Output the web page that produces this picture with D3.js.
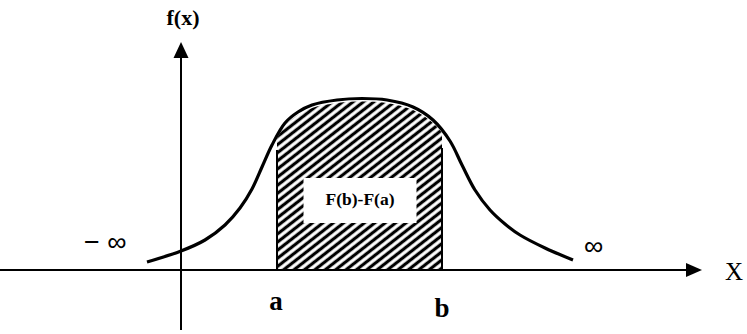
<!DOCTYPE html>
<html>
<head>
<meta charset="utf-8">
<script src="https://cdn.jsdelivr.net/npm/d3@7"></script>
<style>
  html, body { margin: 0; padding: 0; background: #fff; }
  svg { display: block; }
</style>
</head>
<body>
<svg id="chart" width="747" height="334"></svg>
<script>
// density curve (x in axis units, y in density units)
const curveX = [-0.68, 0, 0.48, 0.88, 1.18, 1.42, 1.62, 1.82, 2.08, 2.34, 2.62, 3.12, 3.62,
  4.12, 4.64, 5.04, 5.38, 5.62, 5.88, 6.18, 6.48, 6.78, 7.28, 7.84];
const curveY = [0.16, 0.38, 0.60, 0.90, 1.24, 1.62, 2.06, 2.50, 2.94, 3.16, 3.30, 3.40, 3.43,
  3.40, 3.26, 3.00, 2.58, 2.10, 1.60, 1.20, 0.92, 0.70, 0.44, 0.20];

const boundA = 1.92;
const boundB = 5.22;
const xAxisExtent = [-3.62, 10.42];
const yAxisExtent = [-1.2, 4.56];

const labelYAxis = 'f(x)';
const labelXAxis = 'X';
const labelArea = 'F(b)-F(a)';
const labelA = 'a';
const labelB = 'b';
const labelNegInf = '\u2212 \u221e';
const labelPosInf = '\u221e';

const svg = d3.select('#chart');

const x = d3.scaleLinear().domain([0, 10]).range([181, 681]);
const y = d3.scaleLinear().domain([0, 5]).range([270, 20]);

const pts = curveX.map((v, i) => [v, curveY[i]]);
const serif = "'Liberation Serif', 'Times New Roman', serif";
const sans = "'Liberation Sans', Arial, sans-serif";

// hatch pattern, "/" stripes a bit flatter than 45deg
const defs = svg.append('defs');
const hw = 6.4;
const pat = defs.append('pattern')
  .attr('id', 'hatch')
  .attr('patternUnits', 'userSpaceOnUse')
  .attr('width', hw)
  .attr('height', hw)
  .attr('patternTransform', 'rotate(52)');
pat.append('rect').attr('width', hw).attr('height', hw).attr('fill', '#fff');
pat.append('line')
  .attr('x1', hw / 2).attr('y1', 0).attr('x2', hw / 2).attr('y2', hw)
  .attr('stroke', '#000').attr('stroke-width', 3.2);

defs.append('clipPath').attr('id', 'ab-clip')
  .append('rect')
  .attr('x', x(boundA))
  .attr('y', 0)
  .attr('width', x(boundB) - x(boundA))
  .attr('height', y(0));

const smooth = d3.curveCatmullRom.alpha(0.5);

const area = d3.area()
  .x(d => x(d[0]))
  .y0(y(0))
  .y1(d => y(d[1]) + 3)
  .curve(smooth);

svg.append('path')
  .datum(pts)
  .attr('clip-path', 'url(#ab-clip)')
  .attr('fill', 'url(#hatch)')
  .attr('d', area);

// white box behind label
const mid = (boundA + boundB) / 2;
svg.append('rect')
  .attr('x', x(mid) - 56)
  .attr('y', y(1.84))
  .attr('width', 113)
  .attr('height', 45)
  .attr('fill', '#fff');

svg.append('text')
  .attr('x', x(mid) + 0.5)
  .attr('y', y(1.84) + 27)
  .attr('text-anchor', 'middle')
  .attr('font-family', serif)
  .attr('font-weight', 'bold')
  .attr('font-size', 17.5)
  .text(labelArea);

// verticals at a and b
[[boundA, 2.4], [boundB, 2.44]].forEach(([bx, top]) => {
  svg.append('line')
    .attr('x1', x(bx)).attr('x2', x(bx))
    .attr('y1', y(top)).attr('y2', y(0))
    .attr('stroke', '#000').attr('stroke-width', 2);
});

// axes
svg.append('line')
  .attr('x1', x(xAxisExtent[0])).attr('x2', x(xAxisExtent[1]) - 10)
  .attr('y1', y(0)).attr('y2', y(0))
  .attr('stroke', '#000').attr('stroke-width', 2);
const xt = x(xAxisExtent[1]), y0 = y(0);
svg.append('path')
  .attr('d', `M${xt},${y0} L${xt - 16},${y0 - 7} L${xt - 16},${y0 + 7} Z`)
  .attr('fill', '#000');

svg.append('line')
  .attr('x1', x(0)).attr('x2', x(0))
  .attr('y1', y(yAxisExtent[0])).attr('y2', y(yAxisExtent[1]) + 10)
  .attr('stroke', '#000').attr('stroke-width', 2);
const yt = y(yAxisExtent[1]), x0 = x(0);
svg.append('path')
  .attr('d', `M${x0},${yt} L${x0 - 7.5},${yt + 16} L${x0 + 7.5},${yt + 16} Z`)
  .attr('fill', '#000');

// curve
const line = d3.line()
  .x(d => x(d[0]))
  .y(d => y(d[1]))
  .curve(smooth);

svg.append('path')
  .datum(pts)
  .attr('fill', 'none')
  .attr('stroke', '#000')
  .attr('stroke-width', 3.2)
  .attr('d', line);

// labels
svg.append('text')
  .attr('x', x0 + 2).attr('y', 25)
  .attr('text-anchor', 'middle')
  .attr('font-family', serif).attr('font-weight', 'bold').attr('font-size', 22)
  .text(labelYAxis);

svg.append('text')
  .attr('x', 734).attr('y', y0 + 10)
  .attr('text-anchor', 'middle')
  .attr('font-family', serif).attr('font-size', 25)
  .text(labelXAxis);

svg.append('text')
  .attr('x', x(boundA) - 1).attr('y', y0 + 40)
  .attr('text-anchor', 'middle')
  .attr('font-family', serif).attr('font-weight', 'bold').attr('font-size', 27)
  .text(labelA);

svg.append('text')
  .attr('x', x(boundB)).attr('y', y0 + 47)
  .attr('text-anchor', 'middle')
  .attr('font-family', serif).attr('font-weight', 'bold').attr('font-size', 27)
  .text(labelB);

svg.append('text')
  .attr('x', 84).attr('y', y(0.38))
  .attr('font-family', sans).attr('font-size', 27)
  .text(labelNegInf);

svg.append('text')
  .attr('x', 584).attr('y', y(0.3))
  .attr('font-family', sans).attr('font-size', 27)
  .text(labelPosInf);
</script>
</body>
</html>
